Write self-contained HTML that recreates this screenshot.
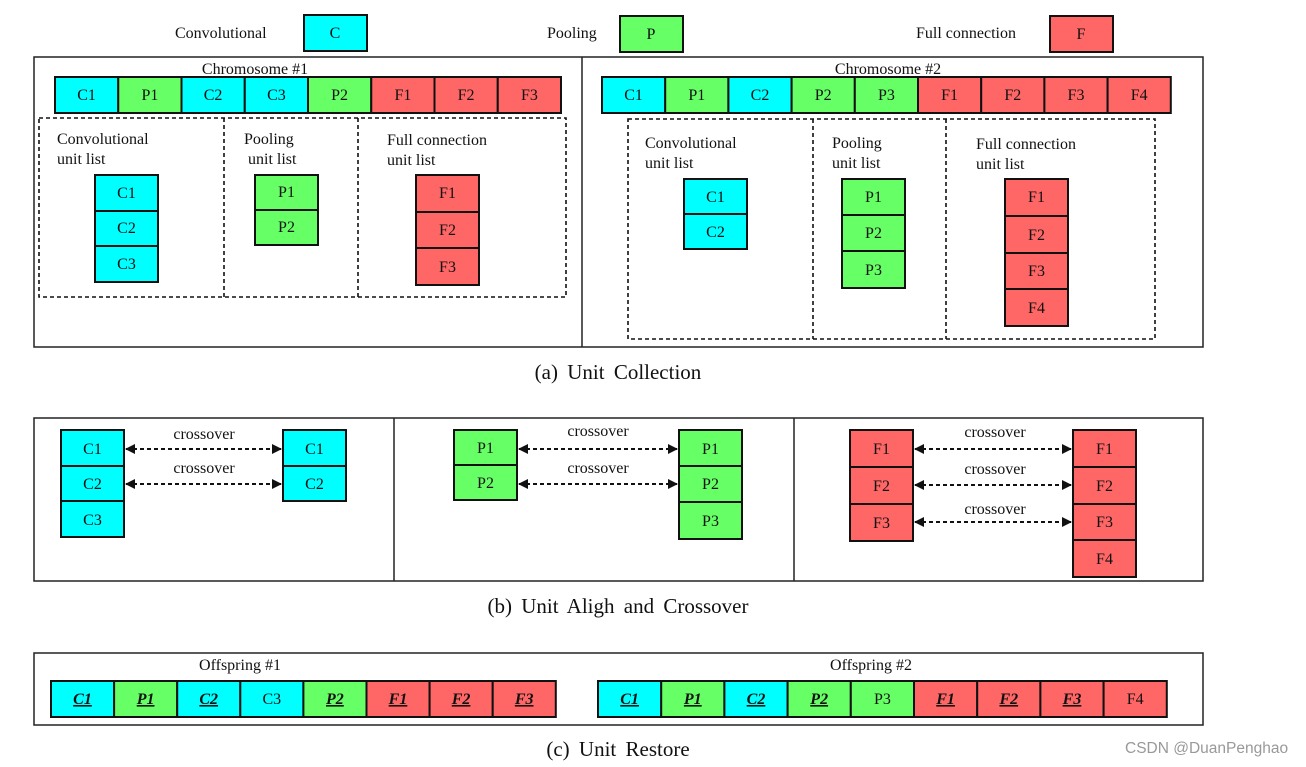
<!DOCTYPE html>
<html><head><meta charset="utf-8"><style>
html,body{margin:0;padding:0;background:#fff}
svg{display:block}
text{font-family:"Liberation Serif",serif;font-size:16px;fill:#111}
.c{fill:#00ffff;stroke:#111;stroke-width:2}
.p{fill:#66ff66;stroke:#111;stroke-width:2}
.f{fill:#ff6666;stroke:#111;stroke-width:2}
.fr{fill:none;stroke:#222;stroke-width:1.5}
.d{fill:none;stroke:#111;stroke-width:1.6;stroke-dasharray:4,3}
.cap{font-size:21px;word-spacing:4px}
.m{text-anchor:middle}
.u{font-weight:bold;font-style:italic;text-decoration:underline}
.ar{stroke:#111;stroke-width:2;stroke-dasharray:4,3;marker-start:url(#ah);marker-end:url(#ah)}
</style></head><body>
<svg width="1306" height="767" viewBox="0 0 1306 767" xmlns="http://www.w3.org/2000/svg">
<defs><marker id="ah" viewBox="0 0 10 10" refX="9" refY="5" markerWidth="5" markerHeight="5" orient="auto-start-reverse"><path d="M0,0 L10,5 L0,10 z" fill="#111"/></marker></defs>

<!-- legend -->
<text x="175" y="38">Convolutional</text>
<rect class="c" x="304" y="15" width="63" height="36"/><text class="m" x="335" y="38">C</text>
<text x="547" y="38">Pooling</text>
<rect class="p" x="620" y="16" width="63" height="36"/><text class="m" x="651" y="39">P</text>
<text x="916" y="38">Full connection</text>
<rect class="f" x="1050" y="16" width="63" height="36"/><text class="m" x="1081" y="39">F</text>

<!-- panel a -->
<rect class="fr" x="34" y="57" width="1169" height="290"/>
<line x1="582" y1="57" x2="582" y2="347" stroke="#222" stroke-width="1.5"/>
<text class="m" x="255" y="74">Chromosome #1</text>
<rect class="c" x="55" y="77" width="63.25" height="36"/><text class="m" x="86.6" y="100">C1</text>
<rect class="p" x="118.25" y="77" width="63.25" height="36"/><text class="m" x="149.9" y="100">P1</text>
<rect class="c" x="181.5" y="77" width="63.25" height="36"/><text class="m" x="213.1" y="100">C2</text>
<rect class="c" x="244.75" y="77" width="63.25" height="36"/><text class="m" x="276.4" y="100">C3</text>
<rect class="p" x="308" y="77" width="63.25" height="36"/><text class="m" x="339.6" y="100">P2</text>
<rect class="f" x="371.25" y="77" width="63.25" height="36"/><text class="m" x="402.9" y="100">F1</text>
<rect class="f" x="434.5" y="77" width="63.25" height="36"/><text class="m" x="466.1" y="100">F2</text>
<rect class="f" x="497.75" y="77" width="63.25" height="36"/><text class="m" x="529.4" y="100">F3</text>
<rect class="d" x="39" y="118" width="527" height="179"/>
<line class="d" x1="224" y1="118" x2="224" y2="297"/>
<line class="d" x1="358" y1="118" x2="358" y2="297"/>
<text x="57" y="144">Convolutional</text><text x="57" y="164">unit list</text>
<text x="244" y="144">Pooling</text><text x="248" y="164">unit list</text>
<text x="387" y="145">Full connection</text><text x="387" y="165">unit list</text>
<rect class="c" x="95" y="175" width="63" height="36"/><text class="m" x="126.5" y="198">C1</text>
<rect class="c" x="95" y="211" width="63" height="35"/><text class="m" x="126.5" y="233">C2</text>
<rect class="c" x="95" y="246" width="63" height="36"/><text class="m" x="126.5" y="269">C3</text>
<rect class="p" x="255" y="175" width="63" height="35"/><text class="m" x="286.5" y="197">P1</text>
<rect class="p" x="255" y="210" width="63" height="35"/><text class="m" x="286.5" y="232">P2</text>
<rect class="f" x="416" y="175" width="63" height="37"/><text class="m" x="447.5" y="198">F1</text>
<rect class="f" x="416" y="212" width="63" height="36"/><text class="m" x="447.5" y="235">F2</text>
<rect class="f" x="416" y="248" width="63" height="37"/><text class="m" x="447.5" y="272">F3</text>

<text class="m" x="888" y="74">Chromosome #2</text>
<rect class="c" x="602" y="77" width="63.2" height="36"/><text class="m" x="633.6" y="100">C1</text>
<rect class="p" x="665.2" y="77" width="63.2" height="36"/><text class="m" x="696.8" y="100">P1</text>
<rect class="c" x="728.4" y="77" width="63.2" height="36"/><text class="m" x="760" y="100">C2</text>
<rect class="p" x="791.6" y="77" width="63.2" height="36"/><text class="m" x="823.2" y="100">P2</text>
<rect class="p" x="854.8" y="77" width="63.2" height="36"/><text class="m" x="886.4" y="100">P3</text>
<rect class="f" x="918" y="77" width="63.2" height="36"/><text class="m" x="949.6" y="100">F1</text>
<rect class="f" x="981.2" y="77" width="63.2" height="36"/><text class="m" x="1012.8" y="100">F2</text>
<rect class="f" x="1044.4" y="77" width="63.2" height="36"/><text class="m" x="1076" y="100">F3</text>
<rect class="f" x="1107.6" y="77" width="63.2" height="36"/><text class="m" x="1139.2" y="100">F4</text>
<rect class="d" x="628" y="119" width="527" height="220"/>
<line class="d" x1="813" y1="119" x2="813" y2="339"/>
<line class="d" x1="946" y1="119" x2="946" y2="339"/>
<text x="645" y="148">Convolutional</text><text x="645" y="168">unit list</text>
<text x="832" y="148">Pooling</text><text x="832" y="168">unit list</text>
<text x="976" y="149">Full connection</text><text x="976" y="169">unit list</text>
<rect class="c" x="684" y="179" width="63" height="35"/><text class="m" x="715.5" y="202">C1</text>
<rect class="c" x="684" y="214" width="63" height="35"/><text class="m" x="715.5" y="237">C2</text>
<rect class="p" x="842" y="179" width="63" height="36"/><text class="m" x="873.5" y="202">P1</text>
<rect class="p" x="842" y="215" width="63" height="36"/><text class="m" x="873.5" y="238">P2</text>
<rect class="p" x="842" y="251" width="63" height="37"/><text class="m" x="873.5" y="275">P3</text>
<rect class="f" x="1005" y="179" width="63" height="37"/><text class="m" x="1036.5" y="202">F1</text>
<rect class="f" x="1005" y="216" width="63" height="37"/><text class="m" x="1036.5" y="240">F2</text>
<rect class="f" x="1005" y="253" width="63" height="36"/><text class="m" x="1036.5" y="276">F3</text>
<rect class="f" x="1005" y="289" width="63" height="37"/><text class="m" x="1036.5" y="313">F4</text>

<text class="m cap" x="618" y="379">(a) Unit Collection</text>

<!-- panel b -->
<rect class="fr" x="34" y="418" width="1169" height="163"/>
<line x1="394" y1="418" x2="394" y2="581" stroke="#222" stroke-width="1.5"/>
<line x1="794" y1="418" x2="794" y2="581" stroke="#222" stroke-width="1.5"/>
<rect class="c" x="61" y="430" width="63" height="36"/><text class="m" x="92.5" y="454">C1</text>
<rect class="c" x="61" y="466" width="63" height="35"/><text class="m" x="92.5" y="489">C2</text>
<rect class="c" x="61" y="501" width="63" height="36"/><text class="m" x="92.5" y="525">C3</text>
<rect class="c" x="283" y="430" width="63" height="36"/><text class="m" x="314.5" y="454">C1</text>
<rect class="c" x="283" y="466" width="63" height="35"/><text class="m" x="314.5" y="489">C2</text>
<line class="ar" x1="126" y1="449" x2="281" y2="449"/>
<line class="ar" x1="126" y1="484" x2="281" y2="484"/>
<text class="m" x="204" y="439">crossover</text>
<text class="m" x="204" y="473">crossover</text>

<rect class="p" x="454" y="430" width="63" height="35"/><text class="m" x="485.5" y="453">P1</text>
<rect class="p" x="454" y="465" width="63" height="35"/><text class="m" x="485.5" y="488">P2</text>
<rect class="p" x="679" y="430" width="63" height="36"/><text class="m" x="710.5" y="454">P1</text>
<rect class="p" x="679" y="466" width="63" height="36"/><text class="m" x="710.5" y="489">P2</text>
<rect class="p" x="679" y="502" width="63" height="37"/><text class="m" x="710.5" y="526">P3</text>
<line class="ar" x1="519" y1="449" x2="677" y2="449"/>
<line class="ar" x1="519" y1="484" x2="677" y2="484"/>
<text class="m" x="598" y="436">crossover</text>
<text class="m" x="598" y="473">crossover</text>

<rect class="f" x="850" y="430" width="63" height="37"/><text class="m" x="881.5" y="454">F1</text>
<rect class="f" x="850" y="467" width="63" height="37"/><text class="m" x="881.5" y="491">F2</text>
<rect class="f" x="850" y="504" width="63" height="37"/><text class="m" x="881.5" y="528">F3</text>
<rect class="f" x="1073" y="430" width="63" height="37"/><text class="m" x="1104.5" y="454">F1</text>
<rect class="f" x="1073" y="467" width="63" height="37"/><text class="m" x="1104.5" y="491">F2</text>
<rect class="f" x="1073" y="504" width="63" height="36"/><text class="m" x="1104.5" y="527">F3</text>
<rect class="f" x="1073" y="540" width="63" height="37"/><text class="m" x="1104.5" y="564">F4</text>
<line class="ar" x1="915" y1="449" x2="1071" y2="449"/>
<line class="ar" x1="915" y1="485" x2="1071" y2="485"/>
<line class="ar" x1="915" y1="522" x2="1071" y2="522"/>
<text class="m" x="995" y="437">crossover</text>
<text class="m" x="995" y="474">crossover</text>
<text class="m" x="995" y="514">crossover</text>

<text class="m cap" x="618" y="613">(b) Unit Aligh and Crossover</text>

<!-- panel c -->
<rect class="fr" x="34" y="653" width="1169" height="72"/>
<text class="m" x="240" y="670">Offspring #1</text>
<rect class="c" x="51" y="681" width="63.1" height="36"/><text class="m u" x="82.5" y="704">C1</text>
<rect class="p" x="114.1" y="681" width="63.1" height="36"/><text class="m u" x="145.6" y="704">P1</text>
<rect class="c" x="177.2" y="681" width="63.1" height="36"/><text class="m u" x="208.7" y="704">C2</text>
<rect class="c" x="240.3" y="681" width="63.1" height="36"/><text class="m" x="271.8" y="704">C3</text>
<rect class="p" x="303.4" y="681" width="63.1" height="36"/><text class="m u" x="334.9" y="704">P2</text>
<rect class="f" x="366.5" y="681" width="63.1" height="36"/><text class="m u" x="398" y="704">F1</text>
<rect class="f" x="429.6" y="681" width="63.1" height="36"/><text class="m u" x="461.1" y="704">F2</text>
<rect class="f" x="492.7" y="681" width="63.1" height="36"/><text class="m u" x="524.2" y="704">F3</text>

<text class="m" x="871" y="670">Offspring #2</text>
<rect class="c" x="598" y="681" width="63.2" height="36"/><text class="m u" x="629.6" y="704">C1</text>
<rect class="p" x="661.2" y="681" width="63.2" height="36"/><text class="m u" x="692.8" y="704">P1</text>
<rect class="c" x="724.4" y="681" width="63.2" height="36"/><text class="m u" x="756" y="704">C2</text>
<rect class="p" x="787.6" y="681" width="63.2" height="36"/><text class="m u" x="819.2" y="704">P2</text>
<rect class="p" x="850.8" y="681" width="63.2" height="36"/><text class="m" x="882.4" y="704">P3</text>
<rect class="f" x="914" y="681" width="63.2" height="36"/><text class="m u" x="945.6" y="704">F1</text>
<rect class="f" x="977.2" y="681" width="63.2" height="36"/><text class="m u" x="1008.8" y="704">F2</text>
<rect class="f" x="1040.4" y="681" width="63.2" height="36"/><text class="m u" x="1072" y="704">F3</text>
<rect class="f" x="1103.6" y="681" width="63.2" height="36"/><text class="m" x="1135.2" y="704">F4</text>

<text class="m cap" x="618" y="756">(c) Unit Restore</text>
<text x="1125" y="753" style="font-family:'Liberation Sans',sans-serif;font-size:15.5px;fill:#999">CSDN @DuanPenghao</text>
</svg>
</body></html>
